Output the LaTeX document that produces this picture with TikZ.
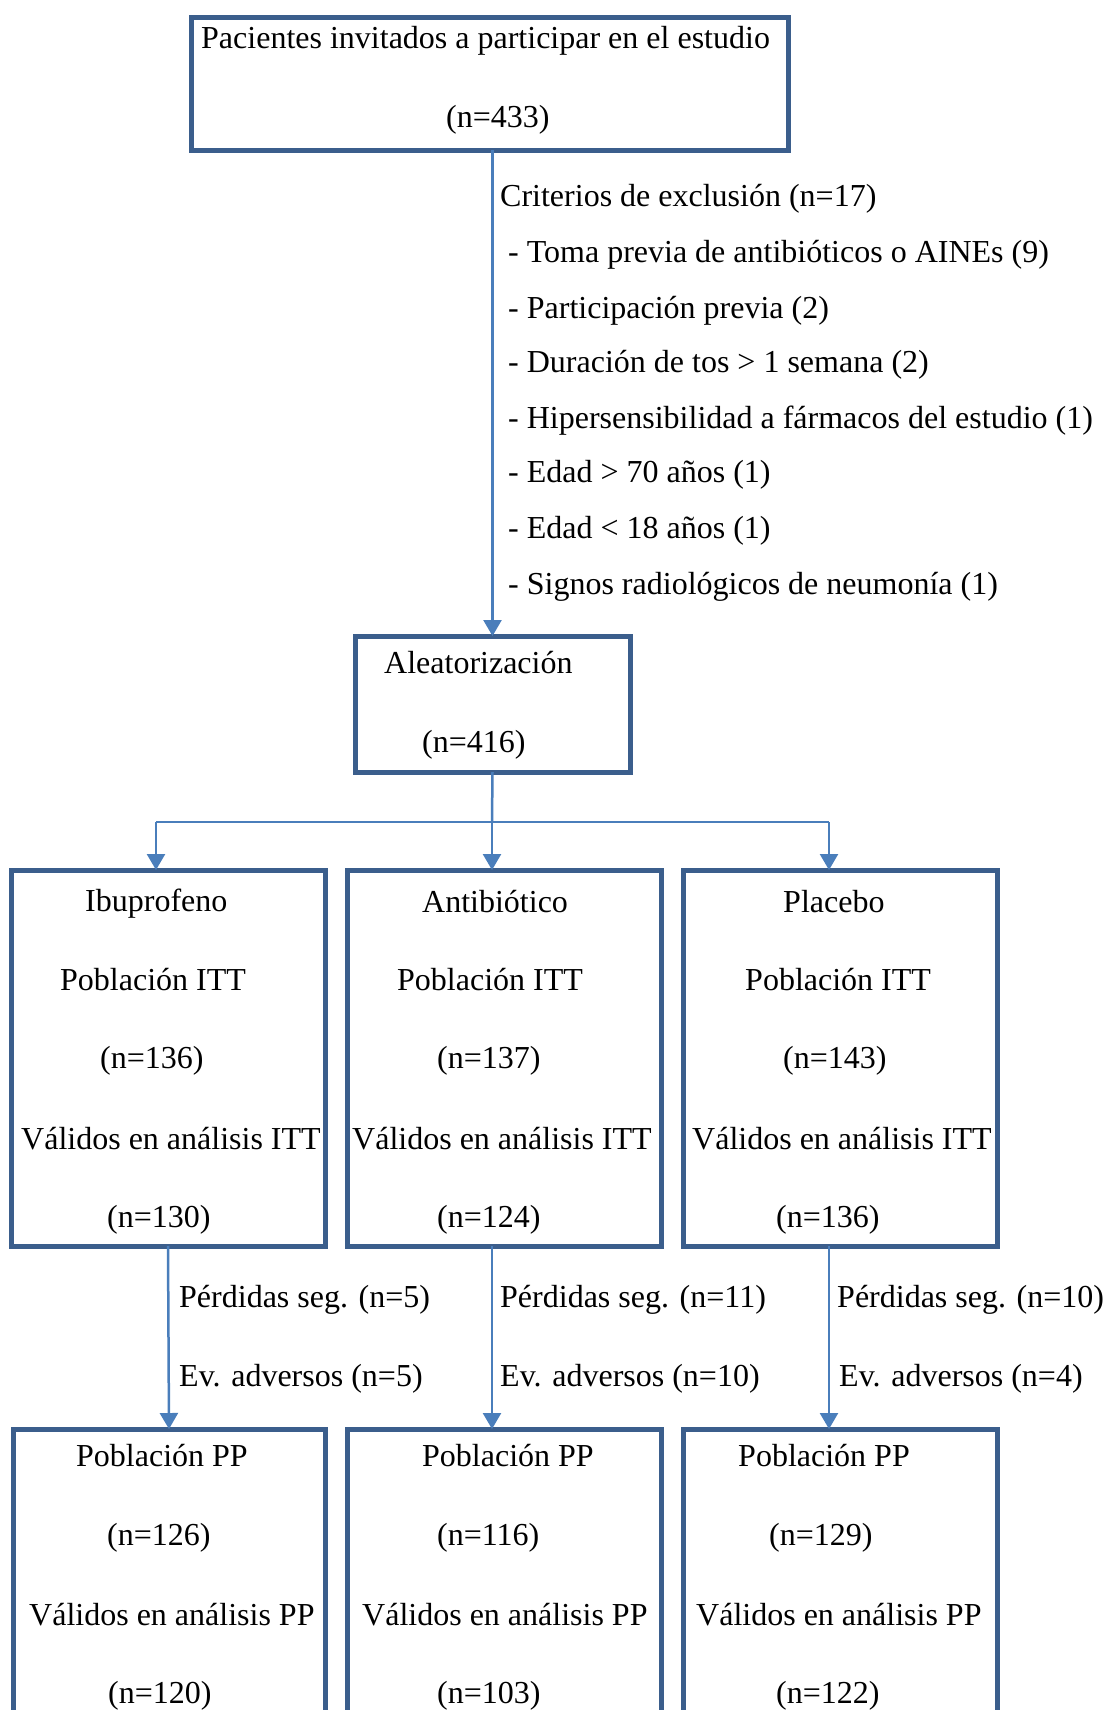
\documentclass[tikz,border=0pt]{standalone}
\usepackage{fontspec}
\setmainfont{Liberation Serif}
\usetikzlibrary{arrows.meta}
\definecolor{boxblue}{HTML}{3B5E8C}
\definecolor{linkblue}{HTML}{4A7EBB}
\begin{document}
\begin{tikzpicture}[x=1pt,y=-1pt,
  box/.style={draw=boxblue,line width=5pt,minimum width=#1,inner sep=0pt,outer sep=0pt},
  txt/.style={anchor=west,inner sep=0pt,font=\fontsize{32}{38}\selectfont},
  arr/.style={draw=linkblue,line width=2.5pt,-{Triangle[width=18pt,length=16pt]}},
  link/.style={draw=linkblue,line width=2.5pt}]
\useasboundingbox (0,0) rectangle (1103,1710);
\clip (0,0) rectangle (1103,1710);
% boxes
\node[box=597pt,minimum height=132pt] (top) at (489.5,84) {};
\node[box=275pt,minimum height=136pt] (alea) at (492.5,704) {};
\node[box=314pt,minimum height=376pt] (ibu) at (168,1058) {};
\node[box=314pt,minimum height=376pt] (anti) at (504,1058) {};
\node[box=314pt,minimum height=376pt] (plac) at (840,1058) {};
\node[box=312pt,minimum height=340pt] (ppi) at (169,1599) {};
\node[box=314pt,minimum height=340pt] (ppa) at (504,1599) {};
\node[box=314pt,minimum height=340pt] (ppp) at (840,1599) {};
% texts
\begin{scope}[yshift=-3pt]
\node[txt] (t1) at (201,38) {Pacientes invitados a participar en el estudio};
\node[txt] (t2) at (446,117) {(n=433)};
\node[txt] (e0) at (500,196) {Criterios de exclusión (n=17)};
\node[txt] (e1) at (508,252) {- Toma previa de antibióticos o AINEs (9)};
\node[txt] (e2) at (508,308) {- Participación previa (2)};
\node[txt] (e3) at (508,362) {- Duración de tos > 1 semana (2)};
\node[txt] (e4) at (508,418) {- Hipersensibilidad a fármacos del estudio (1)};
\node[txt] (e5) at (508,472) {- Edad > 70 años (1)};
\node[txt] (e6) at (508,528) {- Edad < 18 años (1)};
\node[txt] (e7) at (508,584) {- Signos radiológicos de neumonía (1)};
\node[txt] (a1) at (384,660) {Aleatorización};
\node[txt] (a2) at (422,742) {(n=416)};
% ITT
\node[txt] (i1) at (85,901) {Ibuprofeno};
\node[txt] (i2) at (60,977) {Población ITT};
\node[txt] (i3) at (100,1058) {(n=136)};
\node[txt] (i4) at (21,1136) {Válidos en análisis ITT};
\node[txt] (i5) at (107,1217) {(n=130)};
\node[txt] (b1) at (422,899) {Antibiótico};
\node[txt] (b2) at (397,977) {Población ITT};
\node[txt] (b3) at (437,1058) {(n=137)};
\node[txt] (b4) at (352,1136) {Válidos en análisis ITT};
\node[txt] (b5) at (437,1217) {(n=124)};
\node[txt] (c1) at (783,899) {Placebo};
\node[txt] (c2) at (745,977) {Población ITT};
\node[txt] (c3) at (783,1058) {(n=143)};
\node[txt] (c4) at (692,1136) {Válidos en análisis ITT};
\node[txt] (c5) at (776,1217) {(n=136)};
% losses
\node[txt] (l1) at (179,1297) {Pérdidas seg. (n=5)};
\node[txt] (l2) at (179,1376) {Ev. adversos (n=5)};
\node[txt] (m1) at (500,1297) {Pérdidas seg. (n=11)};
\node[txt] (m2) at (500,1376) {Ev. adversos (n=10)};
\node[txt] (r1) at (837,1297) {Pérdidas seg. (n=10)};
\node[txt] (r2) at (839,1376) {Ev. adversos (n=4)};
% PP
\node[txt] (p1) at (76,1453) {Población PP};
\node[txt] (p2) at (107,1535) {(n=126)};
\node[txt] (p3) at (29,1612) {Válidos en análisis PP};
\node[txt] (p4) at (108,1693) {(n=120)};
\node[txt] (q1) at (422,1453) {Población PP};
\node[txt] (q2) at (437,1535) {(n=116)};
\node[txt] (q3) at (362,1612) {Válidos en análisis PP};
\node[txt] (q4) at (437,1693) {(n=103)};
\node[txt] (s1) at (738,1453) {Población PP};
\node[txt] (s2) at (769,1535) {(n=129)};
\node[txt] (s3) at (696,1612) {Válidos en análisis PP};
\node[txt] (s4) at (776,1693) {(n=122)};
\end{scope}
% connectors
\coordinate (j) at (492,822);
\coordinate (jl) at (156,822);
\coordinate (jr) at (829,822);
\draw[arr] (top.south -| alea.north) -- (alea.north);
\draw[link] (alea.south) -- (j);
\draw[link] (jl) -- (jr);
\draw[arr] (jl) -- (jl |- ibu.north);
\draw[arr] (j) -- (j |- anti.north);
\draw[arr] (jr) -- (jr |- plac.north);
\draw[arr] (ibu.south) -- (ppi.north);
\draw[arr] (492,1246) -- (492,1429);
\draw[arr] (829,1246) -- (829,1429);
\end{tikzpicture}
\end{document}
